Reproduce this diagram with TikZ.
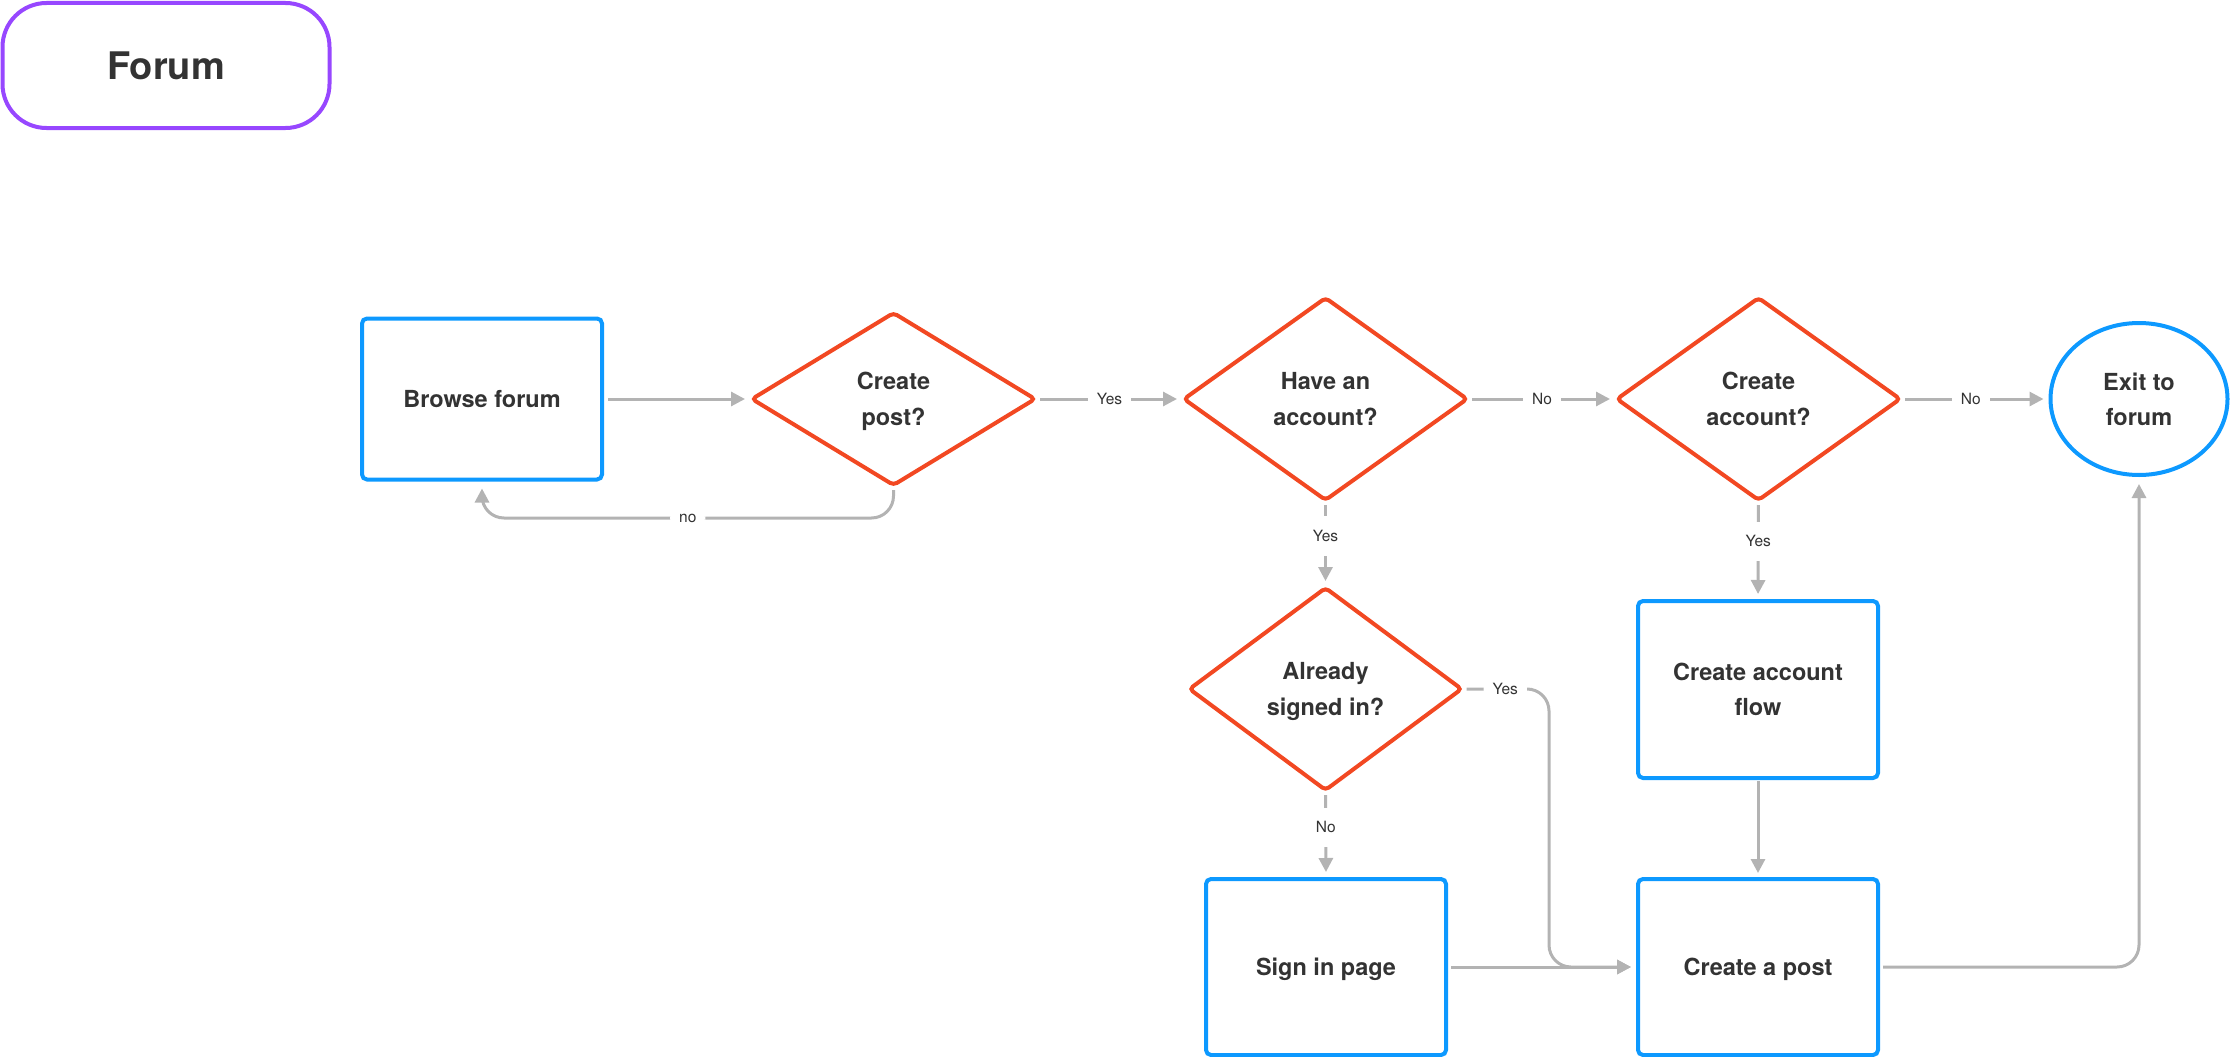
\documentclass[tikz,border=0pt]{standalone}
\usepackage{fontspec}
\setmainfont{TeX Gyre Heros}
\usetikzlibrary{shapes.geometric,arrows.meta,calc}
\definecolor{blueC}{HTML}{0D99FF}
\definecolor{redC}{HTML}{F24822}
\definecolor{purpC}{HTML}{9747FF}
\definecolor{grayC}{HTML}{B3B3B3}
\definecolor{txtC}{HTML}{333333}
\tikzset{
  nodetext/.style={font=\fontsize{23.5}{35.5}\selectfont\bfseries, text=txtC, align=center, inner sep=0pt, outer sep=0pt, text depth=0pt},
  boxnode/.style={nodetext, draw=blueC, line width=4pt, rounded corners=5pt, minimum width=240pt, minimum height=176pt},
  dianode/.style={nodetext, diamond, draw=redC, line width=4pt, rounded corners=4pt, minimum width=283pt, minimum height=202pt},
  ellnode/.style={nodetext, ellipse, draw=blueC, line width=4pt, minimum width=177pt, minimum height=152pt},
  titlenode/.style={font=\fontsize{38}{44}\selectfont\bfseries, text=txtC, draw=purpC, line width=4pt, rounded corners=44pt, minimum width=327pt, minimum height=125pt, inner sep=0pt, outer sep=0pt},
  conn/.style={draw=grayC, line width=3pt, -{Triangle[length=14pt,width=14pt]}, shorten <=5pt, shorten >=7pt},
  lbl/.style={fill=white, font=\fontsize{15.5}{18}\selectfont, text=txtC, inner xsep=9pt, inner ysep=14pt}
}
\begin{document}
\begin{tikzpicture}[x=1pt,y=-1pt]
\useasboundingbox (0,0) rectangle (2230,1057);
\node[titlenode] (forum) at (166,65.5) {Forum};

\node[boxnode, minimum height=161pt] (browse) at (482,399) {Browse forum};
\node[dianode, minimum height=172pt] (cpost) at (893.5,399) {Create\\post?};
\node[dianode] (have) at (1325.5,399) {Have an\\account?};
\node[dianode] (cacc) at (1758.5,399) {Create\\account?};
\node[ellnode] (exit) at (2139,399) {Exit to\\forum};
\node[dianode, minimum width=272pt] (signed) at (1325.5,689) {Already\\signed in?};
\node[boxnode, minimum height=177pt] (caf) at (1758,689.5) {Create account\\flow};
\node[boxnode] (signin) at (1326,967) {Sign in page};
\node[boxnode] (post) at (1758,967) {Create a post};

\coordinate (loopy) at (0,518);
\coordinate (ybend) at (1549,689);

\draw[conn, shorten <=6pt] (browse.east) -- (cpost.west);
\draw[conn] (cpost.east) -- node[lbl]{Yes} (have.west);
\draw[conn] (have.east) -- node[lbl]{No} (cacc.west);
\draw[conn] (cacc.east) -- node[lbl, pos=0.47]{No} (exit.west);
\draw[conn] (have.south) -- node[lbl, pos=0.41]{Yes} (signed.north);
\draw[conn] (cacc.south) -- node[lbl, pos=0.41]{Yes} (caf.north);
\draw[conn] (signed.south) -- node[lbl, pos=0.42]{No} (signin.north);
\draw[conn, rounded corners=22pt] (signed.east) -- node[lbl, pos=0.5]{Yes} (ybend) -- (ybend |- post.west) -- (post.west);
\draw[conn] (signin.east) -- (post.west);
\draw[conn, shorten <=3pt, shorten >=6pt] (caf.south) -- (post.north);
\draw[conn, rounded corners=22pt, shorten >=9pt] (post.east) -- (post.east -| exit.south) -- (exit.south);
\draw[conn, rounded corners=22pt, shorten >=9pt] (cpost.south) -- (cpost.south |- loopy) -- node[lbl]{no} (browse.south |- loopy) -- (browse.south);
\end{tikzpicture}
\end{document}
